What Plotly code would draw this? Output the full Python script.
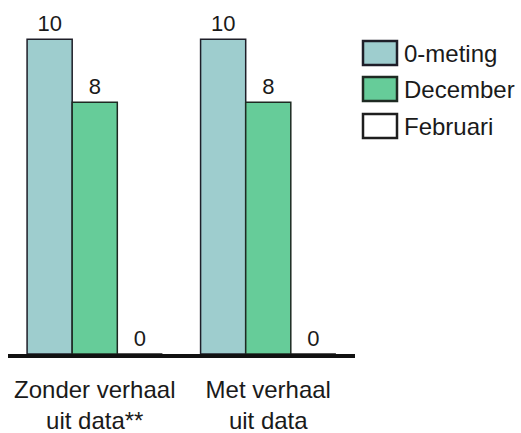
import plotly.graph_objects as go

categories = ["Zonder verhaal<br>uit data**", "Met verhaal<br>uit data"]
series_names = ["0-meting", "December", "Februari"]
nulmeting = [10, 10]
december = [8, 8]
februari = [0, 0]

colors = ["#9ECDCE", "#66CC99", "#FFFFFF"]
line_colors = ["#1E1E28", "#1E2A22", "#1E1E1E"]

W, H = 521, 433
ML, MR, MT, MB = 8, 166, 14, 79
PW, PH = W - ML - MR, H - MT - MB
FONT = "Liberation Sans, Arial, sans-serif"
TXT = "#1A1A1A"


def px_x(x):
    return (x - ML) / PW


def px_y(y):
    return (H - MB - y) / PH


fig = go.Figure()
for name, vals, col, lc in zip(series_names, [nulmeting, december, februari], colors, line_colors):
    fig.add_trace(go.Bar(
        x=categories, y=vals, name=name,
        marker=dict(color=col, line=dict(color=lc, width=1.5)),
        text=[str(v) for v in vals], textposition="outside",
        textfont=dict(family=FONT, size=22, color=TXT),
        cliponaxis=False, showlegend=False,
    ))

# legend drawn as boxes + labels to get the wide swatches
shapes = []
annotations = []
row_tops = [41, 77, 114]
for name, col, lc, top in zip(series_names, colors, line_colors, row_tops):
    shapes.append(dict(
        type="rect", xref="paper", yref="paper",
        x0=px_x(363), x1=px_x(397), y0=px_y(top + 24), y1=px_y(top),
        fillcolor=col, line=dict(color=lc, width=2.5),
    ))
    annotations.append(dict(
        xref="paper", yref="paper", x=px_x(402), y=px_y(top + 12),
        text=name, showarrow=False, xanchor="left", yanchor="middle",
        font=dict(family=FONT, size=24, color=TXT),
    ))

fig.update_layout(
    width=W, height=H,
    margin=dict(l=ML, r=MR, t=MT, b=MB),
    paper_bgcolor="white", plot_bgcolor="white",
    barmode="group", bargap=0.22, bargroupgap=0,
    font=dict(family=FONT, size=22, color=TXT),
    shapes=shapes, annotations=annotations,
    xaxis=dict(
        range=[-0.5, 1.5], showline=True, linecolor="#111111", linewidth=4,
        ticks="", showgrid=False, zeroline=False, ticklabelstandoff=11,
        automargin=False,
        tickfont=dict(family=FONT, size=24, color=TXT),
    ),
    yaxis=dict(range=[0, 10.8], visible=False, showgrid=False, zeroline=False,
               automargin=False),
)

fig.write_html("out.html")
